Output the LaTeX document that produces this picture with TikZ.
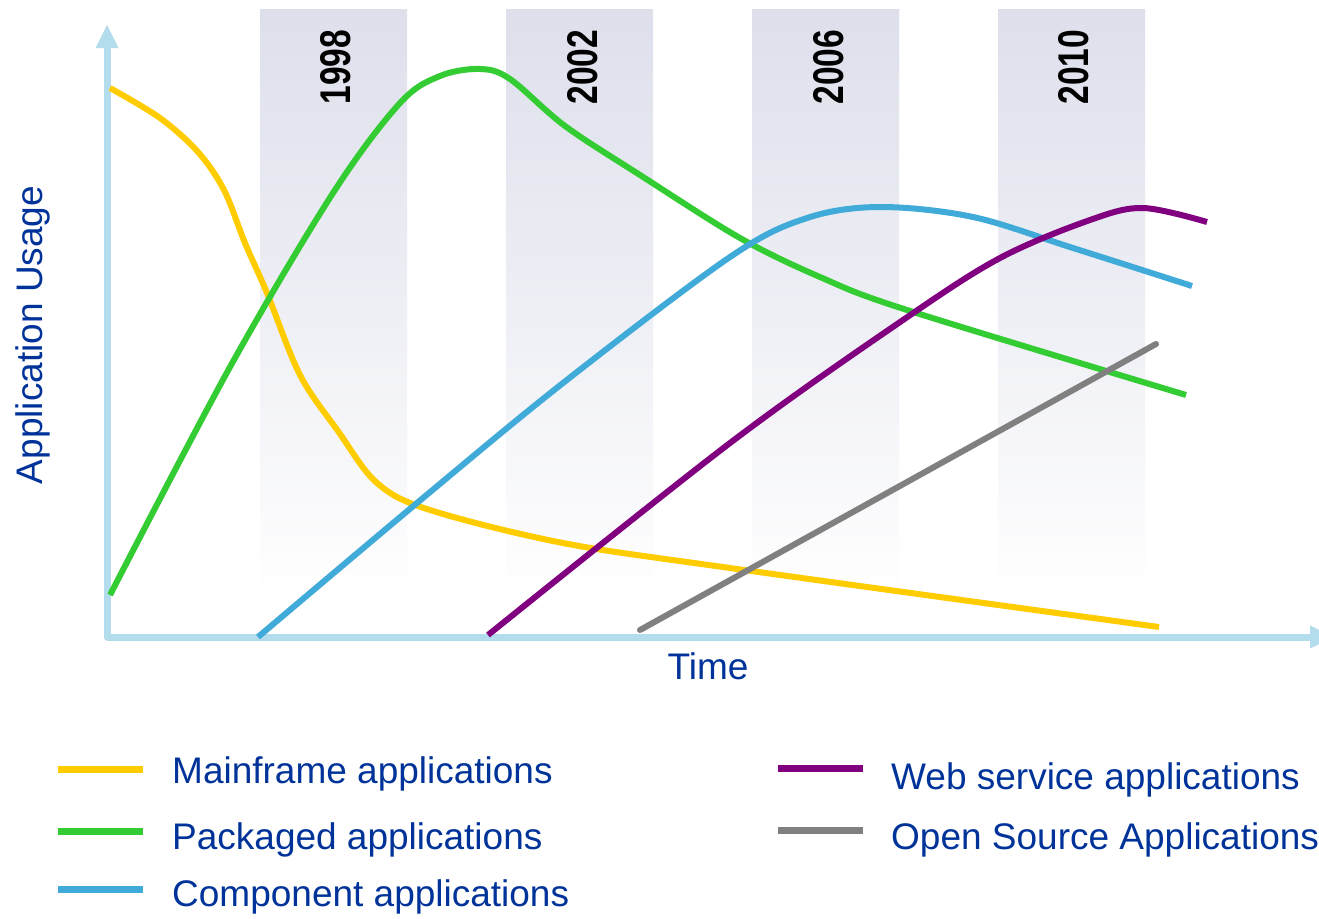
\documentclass[tikz,border=0pt]{standalone}
\usepackage{fontspec}
\setmainfont{Liberation Sans}
\definecolor{axisblue}{RGB}{179,220,236}
\definecolor{bandtop}{RGB}{221,223,235}
\definecolor{textblue}{RGB}{0,51,153}
\definecolor{cyellow}{RGB}{255,204,0}
\definecolor{cgreen}{RGB}{51,204,51}
\definecolor{cblue}{RGB}{64,170,216}
\definecolor{cpurple}{RGB}{128,0,128}
\definecolor{cgray}{RGB}{128,128,128}
\begin{document}
\begin{tikzpicture}[x=1pt,y=-1pt,
  curve/.style={line width=6pt, line join=round},
  lbl/.style={inner sep=0pt, text=textblue, font=\fontsize{37}{44}\selectfont},
  yearlbl/.style={inner sep=0pt, rotate=90, anchor=base, font=\bfseries\fontsize{43}{50}\selectfont},
  band/.style={top color=bandtop, bottom color=white, draw=none},
  keyline/.style={line width=7pt}]
\clip (0,0) rectangle (1319,918);
\fill[white] (0,0) rectangle (1319,918);

% shaded year bands
\foreach \bx in {260,506,752,998} {
  \shade[band] (\bx,9) rectangle ++(147,591);
}
\node[yearlbl] (y1998) at (350,67) {\scalebox{0.78}[1]{1998}};
\node[yearlbl] (y2002) at (597,67) {\scalebox{0.78}[1]{2002}};
\node[yearlbl] (y2006) at (843,67) {\scalebox{0.78}[1]{2006}};
\node[yearlbl] (y2010) at (1088,67) {\scalebox{0.78}[1]{2010}};

% axes
\draw[axisblue, line width=7pt, line join=round] (107,46) -- (107,637) -- (1312,637);
\fill[axisblue] (107,25) -- (118.5,48) -- (95.5,48) -- cycle;
\fill[axisblue] (1333,637) -- (1310,625.5) -- (1310,648.5) -- cycle;

% mainframe
\draw[curve, cyellow] plot[smooth, tension=0.55] coordinates {
  (110,88) (160,118) (198,152) (224,190) (245,243) (267,293) (300,375)
  (338,431) (377,483) (430,510) (563,543) (730,568) (1159,627)};
% packaged
\draw[curve, cgreen] plot[smooth, tension=0.55] coordinates {
  (110,595) (230,367) (333,193) (400,103) (440,76) (480,69)
  (510,79) (565,126) (640,175) (740,238) (820,277) (907,310) (1186,395)};
% component
\draw[curve, cblue] plot[smooth, tension=0.55] coordinates {
  (258,637) (417,503) (563,383) (730,257) (807,218) (880,207)
  (973,217) (1073,248) (1192,286)};
% web service
\draw[curve, cpurple] plot[smooth, tension=0.55] coordinates {
  (488,635) (730,443) (903,320) (1000,258) (1090,220) (1143,208) (1207,222)};
% open source
\draw[curve, cgray, line cap=round] (640,630) -- (1156,344);

% axis titles
\node[lbl, anchor=base] (time) at (708,679) {Time};
\node[lbl, rotate=90, anchor=base] (usage) at (42,335) {Application Usage};

% legend
\draw[keyline, cyellow] (58,769) -- (143,769);
\draw[keyline, cgreen] (58,831) -- (143,831);
\draw[keyline, cblue] (58,889) -- (143,889);
\draw[keyline, cpurple] (778,768) -- (863,768);
\draw[keyline, cgray] (778,830) -- (863,830);
\node[lbl, anchor=base west] (kmain) at (172,783) {Mainframe applications};
\node[lbl, anchor=base west] (kpack) at (172,849) {Packaged applications};
\node[lbl, anchor=base west] (kcomp) at (172,906) {Component applications};
\node[lbl, anchor=base west] (kweb) at (891,789) {Web service applications};
\node[lbl, anchor=base west] (kopen) at (891,849) {Open Source Applications};
\end{tikzpicture}
\end{document}
